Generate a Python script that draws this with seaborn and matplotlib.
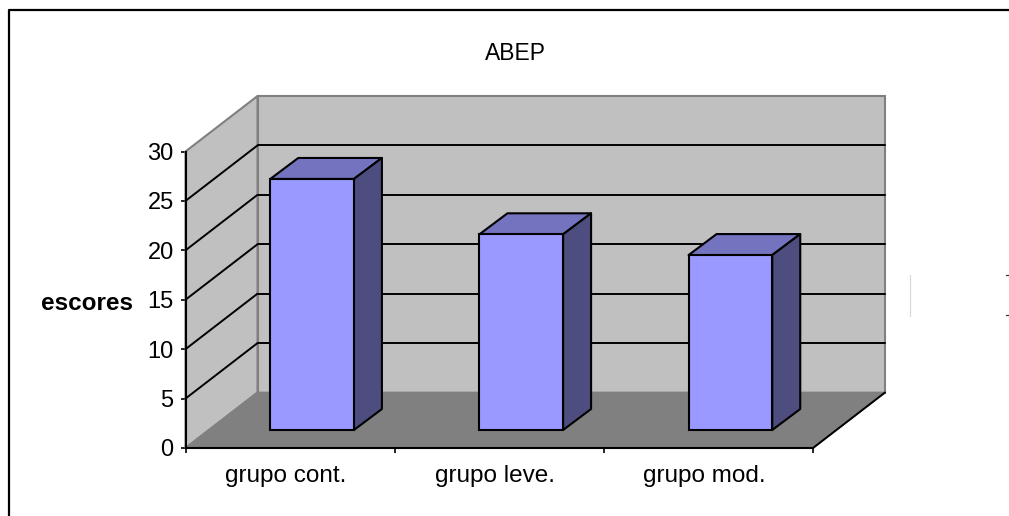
import numpy as np
import pandas as pd
import matplotlib
matplotlib.use("Agg")
import matplotlib.pyplot as plt
from matplotlib.lines import Line2D
from matplotlib.patches import Polygon
from matplotlib.transforms import Affine2D
import seaborn as sns

categories = ["grupo cont.", "grupo leve.", "grupo mod."]
scores = [25.4, 19.8, 17.7]
y_ticks = [0, 5, 10, 15, 20, 25, 30]
title_text = "ABEP"
y_label_text = "escores"

WALL = "#C0C0C0"
FLOOR = "#808080"
EDGE = "#808080"
FRONT = "#9999FF"
TOP = "#7373BF"
SIDE = "#4D4D80"

W, H = 1009, 516
sns.set_theme(style="white")
plt.rcParams["font.family"] = ["Liberation Sans", "DejaVu Sans"]

fig = plt.figure(figsize=(W / 100, H / 100), dpi=100, facecolor="white")
ax = fig.add_axes([185.5 / W, 1 - 448 / H, 627.5 / W, 296.5 / H])
ax.patch.set_visible(False)

frame = pd.DataFrame({"grupo": categories, "escore": scores})
sns.barplot(data=frame, x="grupo", y="escore", color=FRONT, saturation=1,
            width=0.4, edgecolor="black", linewidth=1.5, ax=ax, zorder=5)
bars = list(ax.patches)
ax.set_xlim(-0.5, 2.5)
ax.set_ylim(0, 30)


def shifted(dx, dy):
    """Data coordinates pushed back along the chart's depth direction, in pixels."""
    return ax.transData + Affine2D().translate(dx, dy)


# Box depth of the plot and placement of the columns inside it
BOX_DX, BOX_DY = 72, 55.5
BAR_DX, BAR_DY = 22, 18
BAR_DEPTH_X, BAR_DEPTH_Y = 28, 21
to_px = ax.transData


def depth_poly(points, fc, ec, lw, zorder):
    """Polygon from (x, y, depth) triples, depth running 0 (front) to 1 (back)."""
    xy = []
    for x, y, d in points:
        px, py = to_px.transform((x, y))
        xy.append((px + BOX_DX * d, py + BOX_DY * d))
    patch = Polygon(xy, closed=True, transform=None, facecolor=fc, edgecolor=ec,
                    linewidth=lw, zorder=zorder, clip_on=False, joinstyle="miter")
    ax.add_artist(patch)
    return patch


fig.canvas.draw()
x0, x1 = ax.get_xlim()
y0, y1 = ax.get_ylim()

# Walls and floor of the box
depth_poly([(x0, y0, 1), (x1, y0, 1), (x1, y1, 1), (x0, y1, 1)], WALL, EDGE, 1.5, 0.5)
depth_poly([(x0, y0, 0), (x0, y1, 0), (x0, y1, 1), (x0, y0, 1)], WALL, EDGE, 1.5, 0.6)
depth_poly([(x0, y0, 0), (x1, y0, 0), (x1, y0, 1), (x0, y0, 1)], FLOOR, EDGE, 1.2, 0.7)

# Gridlines run along the side wall and across the back wall
for tick in y_ticks[1:-1]:
    ax.plot([x0, x1], [tick, tick], color="black", lw=1.4, zorder=1,
            clip_on=False, transform=shifted(BOX_DX, BOX_DY))
    a = to_px.transform((x0, tick))
    ax.add_artist(Line2D([a[0], a[0] + BOX_DX], [a[1], a[1] + BOX_DY], color="black",
                         lw=1.4, zorder=1, transform=None, clip_on=False))
a = to_px.transform((x1, y0))
ax.add_artist(Line2D([a[0], a[0] + BOX_DX], [a[1], a[1] + BOX_DY], color="black",
                     lw=1.4, zorder=2, transform=None, clip_on=False))

# Move the column faces back into the box and add their top and side faces
for bar in bars:
    bar.set_transform(shifted(BAR_DX, BAR_DY))
    bar.set_clip_on(False)
    left, right = bar.get_x(), bar.get_x() + bar.get_width()
    height = bar.get_height()
    (lx, by), (rx, ty) = to_px.transform([(left, 0), (right, height)])
    lx += BAR_DX; rx += BAR_DX; by += BAR_DY; ty += BAR_DY
    ax.add_artist(Polygon([(lx, ty), (rx, ty), (rx + BAR_DEPTH_X, ty + BAR_DEPTH_Y),
                           (lx + BAR_DEPTH_X, ty + BAR_DEPTH_Y)], transform=None,
                          facecolor=TOP, edgecolor="black", linewidth=1.5, zorder=4,
                          clip_on=False, joinstyle="round"))
    ax.add_artist(Polygon([(rx, by), (rx + BAR_DEPTH_X, by + BAR_DEPTH_Y),
                           (rx + BAR_DEPTH_X, ty + BAR_DEPTH_Y), (rx, ty)], transform=None,
                          facecolor=SIDE, edgecolor="black", linewidth=1.5, zorder=4,
                          clip_on=False, joinstyle="round"))

# Axes
sns.despine(ax=ax, top=True, right=True)
for name in ("left", "bottom"):
    ax.spines[name].set_color("black")
    ax.spines[name].set_linewidth(1.5)
    ax.spines[name].set_zorder(6)
ax.set_yticks(y_ticks)
ax.set_xticks([-0.5, 0.5, 1.5, 2.5])
ax.set_xticklabels([])
ax.set_xticks([0, 1, 2], categories, minor=True)
ax.tick_params(axis="y", direction="out", length=3.5, width=1.2, color="black",
               labelsize=17, labelcolor="black", pad=5, left=True)
ax.tick_params(axis="x", which="major", direction="out", length=3.5, width=1.2,
               color="black", bottom=True)
ax.tick_params(axis="x", which="minor", length=0, labelsize=17.5, labelcolor="black", pad=12.5)
# Category labels sit a little left of the slot centres
for label in ax.get_xticklabels(minor=True):
    label.set_transform(label.get_transform() + Affine2D().translate(-4, 0))
ax.set_xlabel("")
ax.set_ylabel(y_label_text, rotation=0, fontsize=17.5, fontweight="bold", color="black",
              ha="center", va="center")
ax.yaxis.set_label_coords((86.5 - 185.5) / 627.5, (448 - 303) / 296.5)
ax.set_title(title_text, x=(515 - 185.5) / 627.5, y=(448 - 53) / 296.5, va="center",
             fontsize=16.5, color="black", pad=0)

# Chart frame, open towards the lower and right image edges
fig.add_artist(Line2D([8.5 / W, 8.5 / W, 1], [0, 1 - 10 / H, 1 - 10 / H], color="black", lw=1.6))

# Remains of a cut-off legend at the right edge
fig.add_artist(Line2D([909.5 / W] * 2, [1 - 275 / H, 1 - 316 / H], color="#D8D8D8", lw=0.9))
for yy in (275, 315):
    fig.add_artist(Line2D([1006 / W, 1009 / W], [1 - yy / H] * 2, color="#333333", lw=0.9))

fig.savefig("out.png", dpi=100, facecolor="white")
